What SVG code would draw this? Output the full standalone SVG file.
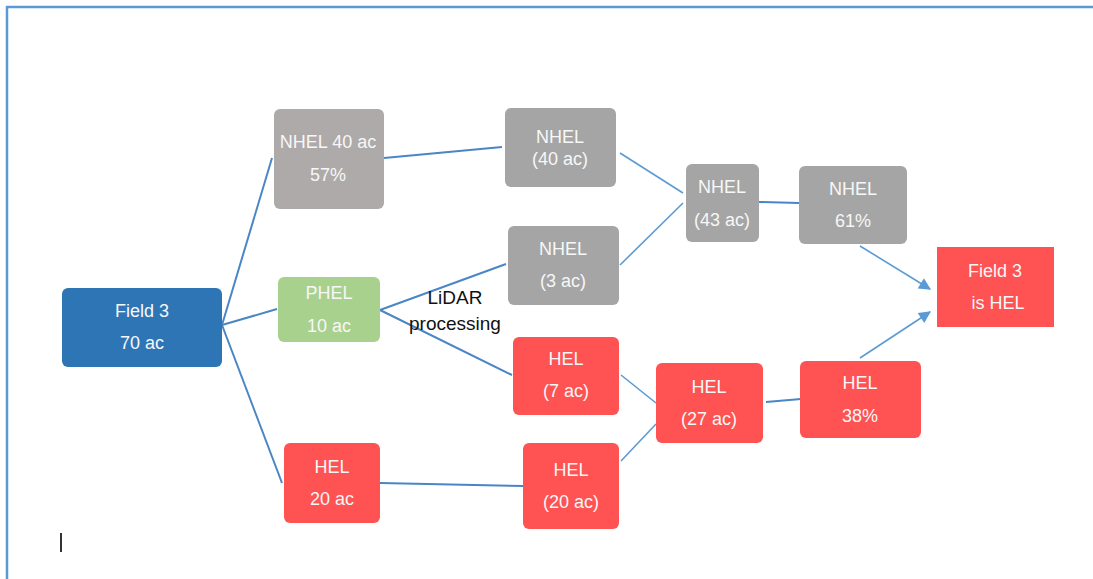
<svg xmlns="http://www.w3.org/2000/svg" width="1093" height="579" viewBox="0 0 1093 579">
<defs>
<style>
.t{font-family:"Liberation Sans",Arial,sans-serif;font-size:18px;fill:#F7F7F7;text-anchor:middle}
.lbl{font-family:"Liberation Sans",Arial,sans-serif;font-size:19px;fill:#111;text-anchor:middle}
.c{stroke:#5B9BD5;stroke-width:1.6;fill:none}
.cd{stroke:#4A86C5;stroke-width:2;fill:none}
.gray{fill:#A5A5A5}
.red{fill:#FF5252}
</style>
<marker id="ah" viewBox="0 0 10 10" refX="9" refY="5" markerWidth="14" markerHeight="12" orient="auto" markerUnits="userSpaceOnUse">
<path d="M0,0 L10,5 L0,10 z" fill="#5B9BD5"/>
</marker>
</defs>
<rect width="1093" height="579" fill="#fff"/>
<path d="M7,579 L7,7 L1093,7" stroke="#5B9BD5" stroke-width="2.5" fill="none"/>
<line x1="61" y1="533" x2="61" y2="552" stroke="#333" stroke-width="2"/>

<g id="connectors">
<line class="cd" x1="222" y1="325" x2="272" y2="158"/>
<line class="cd" x1="222" y1="325" x2="277" y2="309"/>
<line class="cd" x1="222" y1="325" x2="282" y2="483"/>
<line class="cd" x1="384" y1="158" x2="502" y2="147"/>
<line class="cd" x1="380" y1="310" x2="506" y2="264"/>
<line class="cd" x1="380" y1="310" x2="512" y2="375"/>
<line class="cd" x1="380" y1="483" x2="523" y2="486"/>
<line class="c" x1="620" y1="153" x2="683" y2="193"/>
<line class="c" x1="620" y1="265" x2="683" y2="203"/>
<line class="cd" x1="759" y1="202" x2="799" y2="203"/>
<line class="c" x1="621" y1="375" x2="656" y2="403"/>
<line class="c" x1="621" y1="461" x2="656" y2="424"/>
<line class="cd" x1="766" y1="402" x2="801" y2="399"/>
<line class="c" x1="860" y1="246" x2="930" y2="289" marker-end="url(#ah)"/>
<line class="c" x1="860" y1="358" x2="930" y2="312" marker-end="url(#ah)"/>
</g>

<g id="field3">
<rect x="62" y="288" width="160" height="79" rx="6" fill="#2E75B6"/>
<text class="t" x="142" y="317">Field 3</text>
<text class="t" x="142" y="349">70 ac</text>
</g>
<g id="nhel40pct">
<rect x="274" y="109" width="110" height="100" rx="6" fill="#AEAAAA"/>
<text class="t" x="328" y="148">NHEL 40 ac</text>
<text class="t" x="328" y="181">57%</text>
</g>
<g id="phel">
<rect x="278" y="277" width="102" height="65" rx="6" fill="#A9D18E"/>
<text class="t" x="329" y="299">PHEL</text>
<text class="t" x="329" y="332">10 ac</text>
</g>
<g id="hel20">
<rect x="284" y="443" width="96" height="80" rx="6" class="red"/>
<text class="t" x="332" y="473">HEL</text>
<text class="t" x="332" y="505">20 ac</text>
</g>
<g id="lidar">
<text class="lbl" x="455" y="304">LiDAR</text>
<text class="lbl" x="455" y="330">processing</text>
</g>
<g id="nhel40">
<rect x="505" y="108" width="111" height="79" rx="6" class="gray"/>
<text class="t" x="560" y="143">NHEL</text>
<text class="t" x="560" y="165">(40 ac)</text>
</g>
<g id="nhel3">
<rect x="508" y="226" width="111" height="79" rx="6" class="gray"/>
<text class="t" x="563" y="255">NHEL</text>
<text class="t" x="563" y="287">(3 ac)</text>
</g>
<g id="hel7">
<rect x="513" y="337" width="106" height="78" rx="6" class="red"/>
<text class="t" x="566" y="365">HEL</text>
<text class="t" x="566" y="397">(7 ac)</text>
</g>
<g id="hel20b">
<rect x="523" y="443" width="96" height="86" rx="6" class="red"/>
<text class="t" x="571" y="476">HEL</text>
<text class="t" x="571" y="508">(20 ac)</text>
</g>
<g id="nhel43">
<rect x="686" y="164" width="73" height="78" rx="6" class="gray"/>
<text class="t" x="722" y="193">NHEL</text>
<text class="t" x="722" y="226">(43 ac)</text>
</g>
<g id="hel27">
<rect x="656" y="363" width="107" height="80" rx="6" class="red"/>
<text class="t" x="709" y="393">HEL</text>
<text class="t" x="709" y="425">(27 ac)</text>
</g>
<g id="nhel61">
<rect x="799" y="166" width="108" height="78" rx="6" class="gray"/>
<text class="t" x="853" y="195">NHEL</text>
<text class="t" x="853" y="227">61%</text>
</g>
<g id="hel38">
<rect x="800" y="361" width="121" height="77" rx="6" class="red"/>
<text class="t" x="860" y="389">HEL</text>
<text class="t" x="860" y="422">38%</text>
</g>
<g id="result">
<rect x="937" y="247" width="117" height="80" class="red"/>
<text class="t" x="995" y="277">Field 3</text>
<text class="t" x="998" y="309">is HEL</text>
</g>
</svg>
